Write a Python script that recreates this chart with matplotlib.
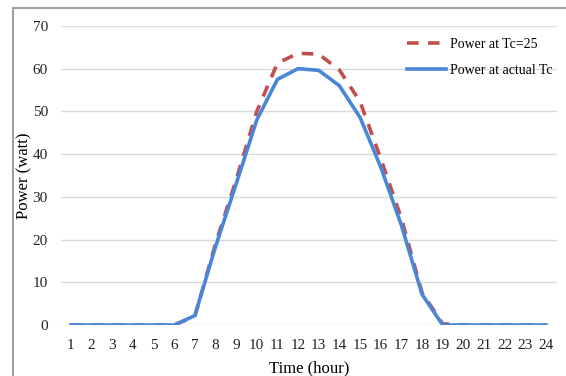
import matplotlib
matplotlib.use("Agg")
import matplotlib.pyplot as plt
from matplotlib.patches import Rectangle

# hourly values
hours = list(range(1, 25))
power_tc25 = [0, 0, 0, 0, 0, 0, 2, 19, 34, 50, 61.3, 63.6, 63.4, 59.7, 52.3, 39, 25, 7.6, 0.3, 0, 0, 0, 0, 0]
power_actual = [0, 0, 0, 0, 0, 0, 2.2, 18.3, 33, 48, 57.5, 60, 59.6, 56, 48.6, 37, 23.4, 7.2, 0, 0, 0, 0, 0, 0]
yticks = [0, 10, 20, 30, 40, 50, 60, 70]

plt.rcParams['font.family'] = ['Liberation Serif', 'DejaVu Serif']

fig = plt.figure(figsize=(5.66, 3.76), dpi=100)
ax = fig.add_axes([0.1078, 0.1356, 0.876, 0.7954])

ax.plot(hours, power_tc25, color="#c0504d", linewidth=2.6, dashes=(3.2, 2.6), label="Power at Tc=25")
ax.plot(hours, power_actual, color="#4a86d6", linewidth=2.6, label="Power at actual Tc")

ax.set_xlim(0.52, 24.53)
ax.set_ylim(0, 70)
ax.set_xticks(hours)
ax.set_yticks(yticks)
ax.grid(axis="y", color="#d9d9d9", linewidth=1)
ax.set_axisbelow(True)
for s in ax.spines.values():
    s.set_visible(False)
ax.tick_params(length=0, labelsize=11, colors="#222222", pad=10)
ax.tick_params(axis="y", pad=9.5)

ax.set_ylabel("Power (watt)", fontsize=12)
ax.yaxis.set_label_coords(-0.058, 0.5)
ax.set_xlabel("Time (hour)", fontsize=12, labelpad=6)
ax.legend(loc="upper left", frameon=False, fontsize=10, handlelength=2.8, handletextpad=0.3,
          borderpad=0, borderaxespad=0, labelspacing=0.94,
          bbox_to_anchor=(407 / 566, 1 - 37.5 / 376), bbox_transform=fig.transFigure)

fig.patches.append(Rectangle((13 / 566, -0.1), 1.2, 1 - 8 / 376 + 0.1, transform=fig.transFigure,
                             fill=False, edgecolor="#a0a0a0", linewidth=1.5))

fig.savefig("out.png", dpi=100)
